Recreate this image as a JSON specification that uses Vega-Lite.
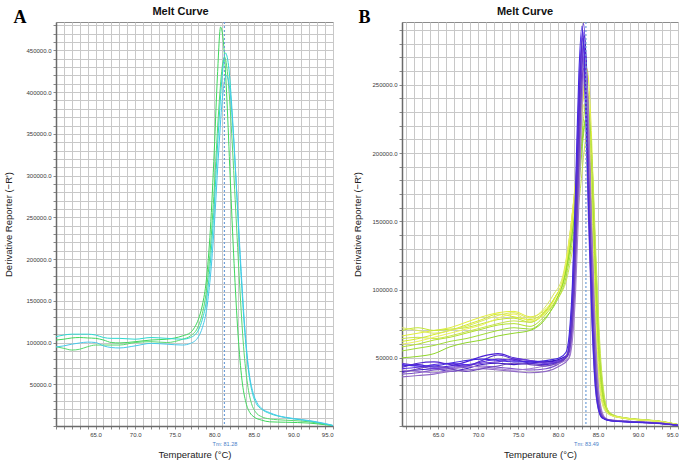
{
"$schema":"https://vega.github.io/schema/vega-lite/v6.json",
"background":"white",
"padding":{"left":3,"top":5,"right":4,"bottom":1},
"spacing":18,
"config":{
 "font":"Liberation Sans",
 "view":{"stroke":"#8c8c8c","strokeWidth":1},
 "axis":{"labelFont":"Liberation Sans","labelFontSize":6,"labelColor":"#3a3a3a","titleFont":"Liberation Sans","titleFontSize":9.5,"titleFontWeight":"normal","titleColor":"#222222","gridColor":"#c8c8c8","gridWidth":1,"tickColor":"#888888","tickSize":3,"domainColor":"#6a6a6a","domainWidth":1.5,"labelOverlap":false,"labelPadding":2}
},
"datasets":{
"a":[
{"s":"g1","t":60,"v":103000},{"s":"g1","t":61,"v":104000},{"s":"g1","t":62,"v":105500},{"s":"g1","t":63,"v":106000},{"s":"g1","t":64,"v":105500},{"s":"g1","t":65,"v":105000},{"s":"g1","t":66,"v":103000},{"s":"g1","t":67,"v":100000},{"s":"g1","t":68,"v":99500},{"s":"g1","t":70,"v":101000},{"s":"g1","t":72,"v":103000},{"s":"g1","t":74,"v":104000},{"s":"g1","t":76,"v":108000},{"s":"g1","t":77,"v":112000},{"s":"g1","t":77.5,"v":118000},{"s":"g1","t":78,"v":128000},{"s":"g1","t":78.5,"v":145000},{"s":"g1","t":79,"v":175000},{"s":"g1","t":79.5,"v":235000},{"s":"g1","t":80,"v":330000},{"s":"g1","t":80.4,"v":420000},{"s":"g1","t":80.8,"v":478000},{"s":"g1","t":81.2,"v":455000},{"s":"g1","t":81.6,"v":390000},{"s":"g1","t":82,"v":300000},{"s":"g1","t":82.5,"v":195000},{"s":"g1","t":83,"v":110000},{"s":"g1","t":83.5,"v":55000},{"s":"g1","t":84,"v":28000},{"s":"g1","t":84.5,"v":16000},{"s":"g1","t":85,"v":11000},{"s":"g1","t":86,"v":7000},{"s":"g1","t":87,"v":5000},{"s":"g1","t":89,"v":4500},{"s":"g1","t":92,"v":3500},{"s":"g1","t":94,"v":1500},{"s":"g1","t":95,"v":500},
{"s":"g2","t":60,"v":95000},{"s":"g2","t":61,"v":93000},{"s":"g2","t":62,"v":91000},{"s":"g2","t":63,"v":92000},{"s":"g2","t":64,"v":95000},{"s":"g2","t":65,"v":97000},{"s":"g2","t":66,"v":97000},{"s":"g2","t":67,"v":97000},{"s":"g2","t":68,"v":97000},{"s":"g2","t":70,"v":100000},{"s":"g2","t":72,"v":101000},{"s":"g2","t":74,"v":100000},{"s":"g2","t":76,"v":104000},{"s":"g2","t":77,"v":108000},{"s":"g2","t":78,"v":120000},{"s":"g2","t":78.5,"v":135000},{"s":"g2","t":79,"v":162000},{"s":"g2","t":79.5,"v":212000},{"s":"g2","t":80,"v":285000},{"s":"g2","t":80.5,"v":370000},{"s":"g2","t":81,"v":430000},{"s":"g2","t":81.3,"v":442000},{"s":"g2","t":81.7,"v":420000},{"s":"g2","t":82.2,"v":350000},{"s":"g2","t":82.7,"v":260000},{"s":"g2","t":83.2,"v":170000},{"s":"g2","t":83.7,"v":95000},{"s":"g2","t":84.2,"v":50000},{"s":"g2","t":84.7,"v":27000},{"s":"g2","t":85.2,"v":17000},{"s":"g2","t":86,"v":11000},{"s":"g2","t":87,"v":8500},{"s":"g2","t":88,"v":7500},{"s":"g2","t":90,"v":6500},{"s":"g2","t":92,"v":5000},{"s":"g2","t":94,"v":2000},{"s":"g2","t":95,"v":500},
{"s":"c1","t":60,"v":107000},{"s":"c1","t":61,"v":109000},{"s":"c1","t":62,"v":110000},{"s":"c1","t":63,"v":110000},{"s":"c1","t":64,"v":110000},{"s":"c1","t":65,"v":109000},{"s":"c1","t":66,"v":106000},{"s":"c1","t":67,"v":105000},{"s":"c1","t":68,"v":105000},{"s":"c1","t":70,"v":104000},{"s":"c1","t":72,"v":106000},{"s":"c1","t":74,"v":105000},{"s":"c1","t":76,"v":104000},{"s":"c1","t":77,"v":106000},{"s":"c1","t":78,"v":115000},{"s":"c1","t":78.5,"v":128000},{"s":"c1","t":79,"v":150000},{"s":"c1","t":79.5,"v":195000},{"s":"c1","t":80,"v":265000},{"s":"c1","t":80.5,"v":350000},{"s":"c1","t":81,"v":420000},{"s":"c1","t":81.4,"v":447000},{"s":"c1","t":81.8,"v":432000},{"s":"c1","t":82.3,"v":370000},{"s":"c1","t":82.8,"v":285000},{"s":"c1","t":83.3,"v":195000},{"s":"c1","t":83.8,"v":120000},{"s":"c1","t":84.3,"v":68000},{"s":"c1","t":84.8,"v":40000},{"s":"c1","t":85.3,"v":27000},{"s":"c1","t":86,"v":20000},{"s":"c1","t":87,"v":15000},{"s":"c1","t":88,"v":12000},{"s":"c1","t":89,"v":10000},{"s":"c1","t":90,"v":8500},{"s":"c1","t":92,"v":6000},{"s":"c1","t":94,"v":2500},{"s":"c1","t":95,"v":500},
{"s":"c2","t":60,"v":94700},{"s":"c2","t":61,"v":96000},{"s":"c2","t":62,"v":98000},{"s":"c2","t":63,"v":99500},{"s":"c2","t":64,"v":100500},{"s":"c2","t":65,"v":100000},{"s":"c2","t":66,"v":96000},{"s":"c2","t":67,"v":94000},{"s":"c2","t":68,"v":93500},{"s":"c2","t":70,"v":96000},{"s":"c2","t":72,"v":99000},{"s":"c2","t":74,"v":98000},{"s":"c2","t":76,"v":97000},{"s":"c2","t":77,"v":99000},{"s":"c2","t":78,"v":107000},{"s":"c2","t":78.5,"v":118000},{"s":"c2","t":79,"v":138000},{"s":"c2","t":79.5,"v":178000},{"s":"c2","t":80,"v":240000},{"s":"c2","t":80.5,"v":320000},{"s":"c2","t":81,"v":390000},{"s":"c2","t":81.5,"v":420000},{"s":"c2","t":81.9,"v":408000},{"s":"c2","t":82.4,"v":350000},{"s":"c2","t":82.9,"v":270000},{"s":"c2","t":83.4,"v":185000},{"s":"c2","t":83.9,"v":112000},{"s":"c2","t":84.4,"v":64000},{"s":"c2","t":84.9,"v":40000},{"s":"c2","t":85.4,"v":28000},{"s":"c2","t":86,"v":21000},{"s":"c2","t":87,"v":16000},{"s":"c2","t":88,"v":12500},{"s":"c2","t":89,"v":10500},{"s":"c2","t":90,"v":9000},{"s":"c2","t":92,"v":6500},{"s":"c2","t":94,"v":3000},{"s":"c2","t":95,"v":700}
],
"by":[
{"s":"y1","t":60.5,"v":66000},{"s":"y1","t":62.5,"v":68000},{"s":"y1","t":64.5,"v":70000},{"s":"y1","t":66.5,"v":72000},{"s":"y1","t":68.5,"v":76000},{"s":"y1","t":70.5,"v":80000},{"s":"y1","t":72.5,"v":83000},{"s":"y1","t":74.5,"v":84000},{"s":"y1","t":76.5,"v":80000},{"s":"y1","t":78.5,"v":86000},{"s":"y1","t":79.7,"v":95000},{"s":"y1","t":80.9,"v":111000},{"s":"y1","t":81.6,"v":139000},{"s":"y1","t":82.1,"v":166000},{"s":"y1","t":82.6,"v":200000},{"s":"y1","t":83.1,"v":239000},{"s":"y1","t":83.6,"v":262000},{"s":"y1","t":84.1,"v":225000},{"s":"y1","t":84.6,"v":139000},{"s":"y1","t":85.1,"v":63000},{"s":"y1","t":85.6,"v":26000},{"s":"y1","t":86.1,"v":13000},{"s":"y1","t":86.8,"v":8000},{"s":"y1","t":88,"v":6000},{"s":"y1","t":90,"v":4600},{"s":"y1","t":92.5,"v":3500},{"s":"y1","t":95,"v":1000},
{"s":"y2","t":60.5,"v":62000},{"s":"y2","t":62.5,"v":64000},{"s":"y2","t":64.5,"v":67000},{"s":"y2","t":66.5,"v":70000},{"s":"y2","t":68.5,"v":74000},{"s":"y2","t":70.5,"v":78000},{"s":"y2","t":72.5,"v":82000},{"s":"y2","t":74.5,"v":80000},{"s":"y2","t":76.5,"v":78000},{"s":"y2","t":78.5,"v":85000},{"s":"y2","t":79.6,"v":94000},{"s":"y2","t":80.8,"v":111000},{"s":"y2","t":81.5,"v":137000},{"s":"y2","t":82,"v":164000},{"s":"y2","t":82.5,"v":196000},{"s":"y2","t":83,"v":233000},{"s":"y2","t":83.5,"v":255000},{"s":"y2","t":84,"v":219000},{"s":"y2","t":84.5,"v":135000},{"s":"y2","t":85,"v":61000},{"s":"y2","t":85.5,"v":26000},{"s":"y2","t":86,"v":13000},{"s":"y2","t":86.7,"v":8000},{"s":"y2","t":88,"v":6200},{"s":"y2","t":90,"v":4800},{"s":"y2","t":92.5,"v":3600},{"s":"y2","t":95,"v":1000},
{"s":"y3","t":60.5,"v":70000},{"s":"y3","t":62.5,"v":72000},{"s":"y3","t":64.5,"v":70000},{"s":"y3","t":66.5,"v":71000},{"s":"y3","t":68.5,"v":72000},{"s":"y3","t":70.5,"v":75000},{"s":"y3","t":72.5,"v":78000},{"s":"y3","t":74.5,"v":79000},{"s":"y3","t":76.5,"v":76000},{"s":"y3","t":78.5,"v":84000},{"s":"y3","t":79.5,"v":93000},{"s":"y3","t":80.7,"v":110000},{"s":"y3","t":81.4,"v":136000},{"s":"y3","t":81.9,"v":161000},{"s":"y3","t":82.4,"v":192000},{"s":"y3","t":82.9,"v":227000},{"s":"y3","t":83.4,"v":248000},{"s":"y3","t":83.9,"v":213000},{"s":"y3","t":84.4,"v":131000},{"s":"y3","t":84.9,"v":60000},{"s":"y3","t":85.4,"v":25000},{"s":"y3","t":85.9,"v":12000},{"s":"y3","t":86.6,"v":8000},{"s":"y3","t":88,"v":5800},{"s":"y3","t":90,"v":4500},{"s":"y3","t":92.5,"v":3400},{"s":"y3","t":95,"v":900},
{"s":"y4","t":60.5,"v":58000},{"s":"y4","t":62.5,"v":60000},{"s":"y4","t":64.5,"v":63000},{"s":"y4","t":66.5,"v":65000},{"s":"y4","t":68.5,"v":68000},{"s":"y4","t":70.5,"v":71000},{"s":"y4","t":72.5,"v":74000},{"s":"y4","t":74.5,"v":75000},{"s":"y4","t":76.5,"v":73000},{"s":"y4","t":78.5,"v":82000},{"s":"y4","t":79.7,"v":92000},{"s":"y4","t":80.9,"v":110000},{"s":"y4","t":81.6,"v":134000},{"s":"y4","t":82.1,"v":157000},{"s":"y4","t":82.6,"v":187000},{"s":"y4","t":83.1,"v":220000},{"s":"y4","t":83.6,"v":240000},{"s":"y4","t":84.1,"v":206000},{"s":"y4","t":84.6,"v":127000},{"s":"y4","t":85.1,"v":58000},{"s":"y4","t":85.6,"v":24000},{"s":"y4","t":86.1,"v":12000},{"s":"y4","t":86.8,"v":8000},{"s":"y4","t":88,"v":6000},{"s":"y4","t":90,"v":4600},{"s":"y4","t":92.5,"v":3500},{"s":"y4","t":95,"v":1000},
{"s":"y5","t":60.5,"v":55000},{"s":"y5","t":62.5,"v":57000},{"s":"y5","t":64.5,"v":59000},{"s":"y5","t":66.5,"v":62000},{"s":"y5","t":68.5,"v":64000},{"s":"y5","t":70.5,"v":67000},{"s":"y5","t":72.5,"v":70000},{"s":"y5","t":74.5,"v":72000},{"s":"y5","t":76.5,"v":71000},{"s":"y5","t":78.5,"v":80000},{"s":"y5","t":79.8,"v":91000},{"s":"y5","t":81,"v":109000},{"s":"y5","t":81.7,"v":132000},{"s":"y5","t":82.2,"v":154000},{"s":"y5","t":82.7,"v":182000},{"s":"y5","t":83.2,"v":214000},{"s":"y5","t":83.7,"v":232000},{"s":"y5","t":84.2,"v":200000},{"s":"y5","t":84.7,"v":123000},{"s":"y5","t":85.2,"v":56000},{"s":"y5","t":85.7,"v":23000},{"s":"y5","t":86.2,"v":12000},{"s":"y5","t":86.9,"v":8000},{"s":"y5","t":88,"v":6300},{"s":"y5","t":90,"v":4900},{"s":"y5","t":92.5,"v":3700},{"s":"y5","t":95,"v":1100},
{"s":"y6","t":60.5,"v":50000},{"s":"y6","t":62.5,"v":51000},{"s":"y6","t":64.5,"v":53000},{"s":"y6","t":66.5,"v":58000},{"s":"y6","t":68.5,"v":61000},{"s":"y6","t":70.5,"v":63000},{"s":"y6","t":72.5,"v":66000},{"s":"y6","t":74.5,"v":68000},{"s":"y6","t":76.5,"v":70000},{"s":"y6","t":78.5,"v":79000},{"s":"y6","t":79.6,"v":90000},{"s":"y6","t":80.8,"v":109000},{"s":"y6","t":81.5,"v":130000},{"s":"y6","t":82,"v":151000},{"s":"y6","t":82.5,"v":178000},{"s":"y6","t":83,"v":208000},{"s":"y6","t":83.5,"v":225000},{"s":"y6","t":84,"v":194000},{"s":"y6","t":84.5,"v":119000},{"s":"y6","t":85,"v":54000},{"s":"y6","t":85.5,"v":23000},{"s":"y6","t":86,"v":12000},{"s":"y6","t":86.7,"v":8000},{"s":"y6","t":88,"v":6100},{"s":"y6","t":90,"v":4700},{"s":"y6","t":92.5,"v":3600},{"s":"y6","t":95,"v":1000},
{"s":"y7","t":60.5,"v":72000},{"s":"y7","t":62.5,"v":70000},{"s":"y7","t":64.5,"v":68000},{"s":"y7","t":66.5,"v":70000},{"s":"y7","t":68.5,"v":73000},{"s":"y7","t":70.5,"v":77000},{"s":"y7","t":72.5,"v":81000},{"s":"y7","t":74.5,"v":83000},{"s":"y7","t":76.5,"v":79000},{"s":"y7","t":78.5,"v":88000},{"s":"y7","t":79.4,"v":96000},{"s":"y7","t":80.6,"v":110000},{"s":"y7","t":81.3,"v":133000},{"s":"y7","t":81.8,"v":156000},{"s":"y7","t":82.3,"v":184000},{"s":"y7","t":82.8,"v":217000},{"s":"y7","t":83.3,"v":236000},{"s":"y7","t":83.8,"v":203000},{"s":"y7","t":84.3,"v":125000},{"s":"y7","t":84.8,"v":57000},{"s":"y7","t":85.3,"v":24000},{"s":"y7","t":85.8,"v":12000},{"s":"y7","t":86.5,"v":8000},{"s":"y7","t":88,"v":5900},{"s":"y7","t":90,"v":4500},{"s":"y7","t":92.5,"v":3400},{"s":"y7","t":95,"v":900},
{"s":"y8","t":60.5,"v":64000},{"s":"y8","t":62.5,"v":65000},{"s":"y8","t":64.5,"v":64000},{"s":"y8","t":66.5,"v":66000},{"s":"y8","t":68.5,"v":69000},{"s":"y8","t":70.5,"v":72000},{"s":"y8","t":72.5,"v":75000},{"s":"y8","t":74.5,"v":77000},{"s":"y8","t":76.5,"v":76000},{"s":"y8","t":78.5,"v":84000},{"s":"y8","t":79.9,"v":93000},{"s":"y8","t":81.1,"v":108000},{"s":"y8","t":81.8,"v":129000},{"s":"y8","t":82.3,"v":149000},{"s":"y8","t":82.8,"v":174000},{"s":"y8","t":83.3,"v":203000},{"s":"y8","t":83.8,"v":220000},{"s":"y8","t":84.3,"v":189000},{"s":"y8","t":84.8,"v":117000},{"s":"y8","t":85.3,"v":53000},{"s":"y8","t":85.8,"v":22000},{"s":"y8","t":86.3,"v":11000},{"s":"y8","t":87,"v":8000},{"s":"y8","t":88,"v":6400},{"s":"y8","t":90,"v":5000},{"s":"y8","t":92.5,"v":3800},{"s":"y8","t":95,"v":1100},
{"s":"y9","t":60.5,"v":60000},{"s":"y9","t":62.5,"v":62000},{"s":"y9","t":64.5,"v":65000},{"s":"y9","t":66.5,"v":68000},{"s":"y9","t":68.5,"v":71000},{"s":"y9","t":70.5,"v":74000},{"s":"y9","t":72.5,"v":79000},{"s":"y9","t":74.5,"v":82000},{"s":"y9","t":76.5,"v":77000},{"s":"y9","t":78.5,"v":83000},{"s":"y9","t":79.5,"v":92000},{"s":"y9","t":80.7,"v":110000},{"s":"y9","t":81.4,"v":136000},{"s":"y9","t":81.9,"v":162000},{"s":"y9","t":82.4,"v":193000},{"s":"y9","t":82.9,"v":229000},{"s":"y9","t":83.4,"v":250000},{"s":"y9","t":83.9,"v":215000},{"s":"y9","t":84.4,"v":132000},{"s":"y9","t":84.9,"v":60000},{"s":"y9","t":85.4,"v":25000},{"s":"y9","t":85.9,"v":13000},{"s":"y9","t":86.6,"v":8000},{"s":"y9","t":88,"v":6000},{"s":"y9","t":90,"v":4600},{"s":"y9","t":92.5,"v":3500},{"s":"y9","t":95,"v":1000}
],
"bp":[
{"s":"p1","t":60.5,"v":44000},{"s":"p1","t":62.5,"v":45000},{"s":"p1","t":64.5,"v":43000},{"s":"p1","t":66.5,"v":44000},{"s":"p1","t":68.5,"v":47000},{"s":"p1","t":70.5,"v":51000},{"s":"p1","t":72.5,"v":53000},{"s":"p1","t":74.5,"v":50000},{"s":"p1","t":76.5,"v":48000},{"s":"p1","t":78.5,"v":47000},{"s":"p1","t":80.2,"v":48000},{"s":"p1","t":81.2,"v":52000},{"s":"p1","t":81.6,"v":66000},{"s":"p1","t":82,"v":105000},{"s":"p1","t":82.4,"v":176000},{"s":"p1","t":82.8,"v":258000},{"s":"p1","t":83.2,"v":295000},{"s":"p1","t":83.6,"v":252000},{"s":"p1","t":84,"v":165000},{"s":"p1","t":84.4,"v":88000},{"s":"p1","t":84.8,"v":36000},{"s":"p1","t":85.2,"v":14000},{"s":"p1","t":85.7,"v":6000},{"s":"p1","t":86.5,"v":4000},{"s":"p1","t":88.5,"v":3200},{"s":"p1","t":91,"v":2600},{"s":"p1","t":93,"v":1800},{"s":"p1","t":95,"v":600},
{"s":"p2","t":60.5,"v":42000},{"s":"p2","t":62.5,"v":43000},{"s":"p2","t":64.5,"v":45000},{"s":"p2","t":66.5,"v":46000},{"s":"p2","t":68.5,"v":45000},{"s":"p2","t":70.5,"v":47000},{"s":"p2","t":72.5,"v":49000},{"s":"p2","t":74.5,"v":48000},{"s":"p2","t":76.5,"v":47000},{"s":"p2","t":78.5,"v":46000},{"s":"p2","t":80.2,"v":47000},{"s":"p2","t":81.1,"v":51000},{"s":"p2","t":81.5,"v":64000},{"s":"p2","t":81.9,"v":102000},{"s":"p2","t":82.3,"v":173000},{"s":"p2","t":82.7,"v":254000},{"s":"p2","t":83.1,"v":290000},{"s":"p2","t":83.5,"v":248000},{"s":"p2","t":83.9,"v":162000},{"s":"p2","t":84.3,"v":86000},{"s":"p2","t":84.7,"v":35000},{"s":"p2","t":85.1,"v":14000},{"s":"p2","t":85.6,"v":6000},{"s":"p2","t":86.5,"v":4200},{"s":"p2","t":88.5,"v":3300},{"s":"p2","t":91,"v":2500},{"s":"p2","t":93,"v":1700},{"s":"p2","t":95,"v":500},
{"s":"p3","t":60.5,"v":40000},{"s":"p3","t":62.5,"v":41000},{"s":"p3","t":64.5,"v":42000},{"s":"p3","t":66.5,"v":40000},{"s":"p3","t":68.5,"v":42000},{"s":"p3","t":70.5,"v":45000},{"s":"p3","t":72.5,"v":46000},{"s":"p3","t":74.5,"v":45000},{"s":"p3","t":76.5,"v":46000},{"s":"p3","t":78.5,"v":47000},{"s":"p3","t":80.2,"v":49000},{"s":"p3","t":81.3,"v":53000},{"s":"p3","t":81.7,"v":67000},{"s":"p3","t":82.1,"v":104000},{"s":"p3","t":82.5,"v":172000},{"s":"p3","t":82.9,"v":250000},{"s":"p3","t":83.3,"v":286000},{"s":"p3","t":83.7,"v":244000},{"s":"p3","t":84.1,"v":158000},{"s":"p3","t":84.5,"v":84000},{"s":"p3","t":84.9,"v":34000},{"s":"p3","t":85.3,"v":13000},{"s":"p3","t":85.8,"v":6000},{"s":"p3","t":86.5,"v":4300},{"s":"p3","t":88.5,"v":3400},{"s":"p3","t":91,"v":2700},{"s":"p3","t":93,"v":1900},{"s":"p3","t":95,"v":600},
{"s":"p4","t":60.5,"v":46000},{"s":"p4","t":62.5,"v":44000},{"s":"p4","t":64.5,"v":42000},{"s":"p4","t":66.5,"v":43000},{"s":"p4","t":68.5,"v":44000},{"s":"p4","t":70.5,"v":46000},{"s":"p4","t":72.5,"v":47000},{"s":"p4","t":74.5,"v":49000},{"s":"p4","t":76.5,"v":48000},{"s":"p4","t":78.5,"v":46000},{"s":"p4","t":80.2,"v":48000},{"s":"p4","t":81.2,"v":52000},{"s":"p4","t":81.6,"v":65000},{"s":"p4","t":82,"v":102000},{"s":"p4","t":82.4,"v":169000},{"s":"p4","t":82.8,"v":245000},{"s":"p4","t":83.2,"v":280000},{"s":"p4","t":83.6,"v":240000},{"s":"p4","t":84,"v":156000},{"s":"p4","t":84.4,"v":83000},{"s":"p4","t":84.8,"v":34000},{"s":"p4","t":85.2,"v":13000},{"s":"p4","t":85.7,"v":6000},{"s":"p4","t":86.5,"v":3900},{"s":"p4","t":88.5,"v":3100},{"s":"p4","t":91,"v":2400},{"s":"p4","t":93,"v":1700},{"s":"p4","t":95,"v":500},
{"s":"p5","t":60.5,"v":38000},{"s":"p5","t":62.5,"v":39000},{"s":"p5","t":64.5,"v":41000},{"s":"p5","t":66.5,"v":42000},{"s":"p5","t":68.5,"v":43000},{"s":"p5","t":70.5,"v":44000},{"s":"p5","t":72.5,"v":43000},{"s":"p5","t":74.5,"v":42000},{"s":"p5","t":76.5,"v":41000},{"s":"p5","t":78.5,"v":42000},{"s":"p5","t":80.2,"v":46000},{"s":"p5","t":81,"v":50000},{"s":"p5","t":81.4,"v":62000},{"s":"p5","t":81.8,"v":98000},{"s":"p5","t":82.2,"v":166000},{"s":"p5","t":82.6,"v":242000},{"s":"p5","t":83,"v":276000},{"s":"p5","t":83.4,"v":236000},{"s":"p5","t":83.8,"v":153000},{"s":"p5","t":84.2,"v":82000},{"s":"p5","t":84.6,"v":33000},{"s":"p5","t":85,"v":13000},{"s":"p5","t":85.5,"v":6000},{"s":"p5","t":86.5,"v":4000},{"s":"p5","t":88.5,"v":3200},{"s":"p5","t":91,"v":2500},{"s":"p5","t":93,"v":1800},{"s":"p5","t":95,"v":600},
{"s":"p6","t":60.5,"v":36000},{"s":"p6","t":62.5,"v":37000},{"s":"p6","t":64.5,"v":38000},{"s":"p6","t":66.5,"v":40000},{"s":"p6","t":68.5,"v":41000},{"s":"p6","t":70.5,"v":42000},{"s":"p6","t":72.5,"v":41000},{"s":"p6","t":74.5,"v":40000},{"s":"p6","t":76.5,"v":39000},{"s":"p6","t":78.5,"v":40000},{"s":"p6","t":80.2,"v":44000},{"s":"p6","t":81.3,"v":49000},{"s":"p6","t":81.7,"v":62000},{"s":"p6","t":82.1,"v":98000},{"s":"p6","t":82.5,"v":163000},{"s":"p6","t":82.9,"v":238000},{"s":"p6","t":83.3,"v":272000},{"s":"p6","t":83.7,"v":232000},{"s":"p6","t":84.1,"v":150000},{"s":"p6","t":84.5,"v":80000},{"s":"p6","t":84.9,"v":32000},{"s":"p6","t":85.3,"v":13000},{"s":"p6","t":85.8,"v":6000},{"s":"p6","t":86.5,"v":4400},{"s":"p6","t":88.5,"v":3500},{"s":"p6","t":91,"v":2800},{"s":"p6","t":93,"v":2000},{"s":"p6","t":95,"v":700},
{"s":"p7","t":60.5,"v":41000},{"s":"p7","t":62.5,"v":40000},{"s":"p7","t":64.5,"v":39000},{"s":"p7","t":66.5,"v":41000},{"s":"p7","t":68.5,"v":44000},{"s":"p7","t":70.5,"v":43000},{"s":"p7","t":72.5,"v":42000},{"s":"p7","t":74.5,"v":41000},{"s":"p7","t":76.5,"v":42000},{"s":"p7","t":78.5,"v":44000},{"s":"p7","t":80.2,"v":46000},{"s":"p7","t":81.4,"v":50000},{"s":"p7","t":81.8,"v":63000},{"s":"p7","t":82.2,"v":98000},{"s":"p7","t":82.6,"v":161000},{"s":"p7","t":83,"v":235000},{"s":"p7","t":83.4,"v":268000},{"s":"p7","t":83.8,"v":229000},{"s":"p7","t":84.2,"v":148000},{"s":"p7","t":84.6,"v":79000},{"s":"p7","t":85,"v":32000},{"s":"p7","t":85.4,"v":13000},{"s":"p7","t":85.9,"v":6000},{"s":"p7","t":86.5,"v":4500},{"s":"p7","t":88.5,"v":3600},{"s":"p7","t":91,"v":2800},{"s":"p7","t":93,"v":2000},{"s":"p7","t":95,"v":700},
{"s":"p8","t":60.5,"v":43000},{"s":"p8","t":62.5,"v":46000},{"s":"p8","t":64.5,"v":47000},{"s":"p8","t":66.5,"v":45000},{"s":"p8","t":68.5,"v":44000},{"s":"p8","t":70.5,"v":48000},{"s":"p8","t":72.5,"v":52000},{"s":"p8","t":74.5,"v":49000},{"s":"p8","t":76.5,"v":46000},{"s":"p8","t":78.5,"v":45000},{"s":"p8","t":80.2,"v":47000},{"s":"p8","t":81.1,"v":51000},{"s":"p8","t":81.5,"v":64000},{"s":"p8","t":81.9,"v":101000},{"s":"p8","t":82.3,"v":170000},{"s":"p8","t":82.7,"v":248000},{"s":"p8","t":83.1,"v":284000},{"s":"p8","t":83.5,"v":242000},{"s":"p8","t":83.9,"v":158000},{"s":"p8","t":84.3,"v":84000},{"s":"p8","t":84.7,"v":34000},{"s":"p8","t":85.1,"v":13000},{"s":"p8","t":85.6,"v":6000},{"s":"p8","t":86.5,"v":4100},{"s":"p8","t":88.5,"v":3300},{"s":"p8","t":91,"v":2600},{"s":"p8","t":93,"v":1800},{"s":"p8","t":95,"v":500},
{"s":"p9","t":60.5,"v":39000},{"s":"p9","t":62.5,"v":42000},{"s":"p9","t":64.5,"v":44000},{"s":"p9","t":66.5,"v":42000},{"s":"p9","t":68.5,"v":40000},{"s":"p9","t":70.5,"v":42000},{"s":"p9","t":72.5,"v":44000},{"s":"p9","t":74.5,"v":46000},{"s":"p9","t":76.5,"v":45000},{"s":"p9","t":78.5,"v":44000},{"s":"p9","t":80.2,"v":47000},{"s":"p9","t":81.2,"v":51000},{"s":"p9","t":81.6,"v":63000},{"s":"p9","t":82,"v":97000},{"s":"p9","t":82.4,"v":159000},{"s":"p9","t":82.8,"v":230000},{"s":"p9","t":83.2,"v":262000},{"s":"p9","t":83.6,"v":224000},{"s":"p9","t":84,"v":145000},{"s":"p9","t":84.4,"v":77000},{"s":"p9","t":84.8,"v":31000},{"s":"p9","t":85.2,"v":12000},{"s":"p9","t":85.7,"v":6000},{"s":"p9","t":86.5,"v":4200},{"s":"p9","t":88.5,"v":3400},{"s":"p9","t":91,"v":2600},{"s":"p9","t":93,"v":1900},{"s":"p9","t":95,"v":600},
{"s":"p10","t":60.5,"v":45000},{"s":"p10","t":62.5,"v":44000},{"s":"p10","t":64.5,"v":44000},{"s":"p10","t":66.5,"v":46000},{"s":"p10","t":68.5,"v":48000},{"s":"p10","t":70.5,"v":49000},{"s":"p10","t":72.5,"v":48000},{"s":"p10","t":74.5,"v":47000},{"s":"p10","t":76.5,"v":47000},{"s":"p10","t":78.5,"v":48000},{"s":"p10","t":80.2,"v":50000},{"s":"p10","t":81,"v":54000},{"s":"p10","t":81.4,"v":67000},{"s":"p10","t":81.8,"v":104000},{"s":"p10","t":82.2,"v":176000},{"s":"p10","t":82.6,"v":257000},{"s":"p10","t":83,"v":293000},{"s":"p10","t":83.4,"v":250000},{"s":"p10","t":83.8,"v":164000},{"s":"p10","t":84.2,"v":87000},{"s":"p10","t":84.6,"v":35000},{"s":"p10","t":85,"v":14000},{"s":"p10","t":85.5,"v":6000},{"s":"p10","t":86.5,"v":3800},{"s":"p10","t":88.5,"v":3000},{"s":"p10","t":91,"v":2400},{"s":"p10","t":93,"v":1700},{"s":"p10","t":95,"v":500}
]
},
"hconcat":[
{
 "title":{"text":"A","anchor":"start","frame":"bounds","font":"Liberation Serif","fontSize":18,"fontWeight":"bold","color":"#000000","baseline":"alphabetic","offset":-35,"dx":10},
 "vconcat":[{
  "width":277,"height":404,
  "title":{"text":"Melt Curve","anchor":"middle","frame":"group","font":"Liberation Sans","fontSize":11,"fontWeight":"bold","color":"#111111","offset":4,"dx":-14},
  "layer":[
   {"data":{"name":"a"},
    "mark":{"type":"line","interpolate":"monotone","strokeWidth":1,"clip":true},
    "encoding":{
     "x":{"field":"t","type":"quantitative","scale":{"domain":[60,95],"nice":false,"zero":false},
          "axis":{"orient":"bottom","values":[60,61,62,63,64,65,66,67,68,69,70,71,72,73,74,75,76,77,78,79,80,81,82,83,84,85,86,87,88,89,90,91,92,93,94,95],"labelExpr":"datum.value % 5 === 0 && datum.value > 60 ? format(datum.value, '.1f') : ''","title":"Temperature (°C)","titlePadding":12,"labelPadding":2}},
     "y":{"field":"v","type":"quantitative","scale":{"domain":[0,484000],"nice":false,"zero":true},
          "axis":{"values":[0,10000,20000,30000,40000,50000,60000,70000,80000,90000,100000,110000,120000,130000,140000,150000,160000,170000,180000,190000,200000,210000,220000,230000,240000,250000,260000,270000,280000,290000,300000,310000,320000,330000,340000,350000,360000,370000,380000,390000,400000,410000,420000,430000,440000,450000,460000,470000,480000],"labelExpr":"datum.value % 50000 === 0 && datum.value > 0 ? format(datum.value, '.1f') : ''","title":"Derivative Reporter (−R')","titlePadding":12}},
     "color":{"field":"s","type":"nominal","legend":null,
       "scale":{"domain":["g1","g2","c1","c2","y1","y2","y3","y4","y5","y6","y7","y8","y9","p1","p2","p3","p4","p5","p6","p7","p8","p9","p10"],
                "range":["#3fd65c","#58da6e","#2ed8d0","#46c8ea","#e2ef3a","#d4eb2c","#c4e734","#b2e22e","#a0dc36","#90d62c","#dbe85e","#c8e44c","#ecf25c","#4a1fd8","#5b30e2","#3c18c4","#6a3ad6","#7c50c8","#9068c6","#a07ad0","#5228d0","#6c44bc","#4326e0"]}}
    }},
   {"data":{"values":[{"tm":81.28}]},
    "mark":{"type":"rule","color":"#6f9fd8","strokeDash":[2,2],"strokeWidth":1.2},
    "encoding":{
     "x":{"field":"tm","type":"quantitative","scale":{"domain":[60,95],"nice":false,"zero":false},
          "axis":{"orient":"bottom","values":[81.28],"labelExpr":"'Tm: ' + format(datum.value, '.2f')","labelColor":"#4a7ec8","labelFontSize":5.5,"labelPadding":15,"labelFlush":false,"grid":false,"domain":false,"ticks":false,"title":null}}
    }}
  ],
  "resolve":{"axis":{"x":"independent"}}
 }]
},
{
 "title":{"text":"B","anchor":"start","frame":"bounds","font":"Liberation Serif","fontSize":18,"fontWeight":"bold","color":"#000000","baseline":"alphabetic","offset":-35,"dx":6},
 "vconcat":[{
  "width":276,"height":404,
  "title":{"text":"Melt Curve","anchor":"middle","frame":"group","font":"Liberation Sans","fontSize":11,"fontWeight":"bold","color":"#111111","offset":4,"dx":-15},
  "layer":[
   {"data":{"name":"by"},
    "mark":{"type":"line","interpolate":"monotone","strokeWidth":1,"clip":true},
    "encoding":{
     "x":{"field":"t","type":"quantitative","scale":{"domain":[60.5,95],"nice":false,"zero":false},
          "axis":{"orient":"bottom","values":[61,62,63,64,65,66,67,68,69,70,71,72,73,74,75,76,77,78,79,80,81,82,83,84,85,86,87,88,89,90,91,92,93,94,95],"labelExpr":"datum.value % 5 === 0 ? format(datum.value, '.1f') : ''","title":"Temperature (°C)","titlePadding":12,"labelPadding":2}},
     "y":{"field":"v","type":"quantitative","scale":{"domain":[0,296000],"nice":false,"zero":true},
          "axis":{"values":[0,10000,20000,30000,40000,50000,60000,70000,80000,90000,100000,110000,120000,130000,140000,150000,160000,170000,180000,190000,200000,210000,220000,230000,240000,250000,260000,270000,280000,290000],"labelExpr":"datum.value % 50000 === 0 && datum.value > 0 ? format(datum.value, '.1f') : ''","title":"Derivative Reporter (−R')","titlePadding":9}},
     "color":{"field":"s","type":"nominal","legend":null,
       "scale":{"domain":["g1","g2","c1","c2","y1","y2","y3","y4","y5","y6","y7","y8","y9","p1","p2","p3","p4","p5","p6","p7","p8","p9","p10"],
                "range":["#3fd65c","#58da6e","#2ed8d0","#46c8ea","#e2ef3a","#d4eb2c","#c4e734","#b2e22e","#a0dc36","#90d62c","#dbe85e","#c8e44c","#ecf25c","#4a1fd8","#5b30e2","#3c18c4","#6a3ad6","#7c50c8","#9068c6","#a07ad0","#5228d0","#6c44bc","#4326e0"]}}
    }},
   {"data":{"name":"bp"},
    "mark":{"type":"line","interpolate":"monotone","strokeWidth":1.1,"clip":true},
    "encoding":{
     "x":{"field":"t","type":"quantitative","scale":{"domain":[60.5,95],"nice":false,"zero":false},"axis":null},
     "y":{"field":"v","type":"quantitative","scale":{"domain":[0,296000],"nice":false,"zero":true},
          "axis":{"values":[0,10000,20000,30000,40000,50000,60000,70000,80000,90000,100000,110000,120000,130000,140000,150000,160000,170000,180000,190000,200000,210000,220000,230000,240000,250000,260000,270000,280000,290000],"labelExpr":"datum.value % 50000 === 0 && datum.value > 0 ? format(datum.value, '.1f') : ''","title":"Derivative Reporter (−R')","titlePadding":9}},
     "color":{"field":"s","type":"nominal","legend":null,
       "scale":{"domain":["g1","g2","c1","c2","y1","y2","y3","y4","y5","y6","y7","y8","y9","p1","p2","p3","p4","p5","p6","p7","p8","p9","p10"],
                "range":["#3fd65c","#58da6e","#2ed8d0","#46c8ea","#e2ef3a","#d4eb2c","#c4e734","#b2e22e","#a0dc36","#90d62c","#dbe85e","#c8e44c","#ecf25c","#4a1fd8","#5b30e2","#3c18c4","#6a3ad6","#7c50c8","#9068c6","#a07ad0","#5228d0","#6c44bc","#4326e0"]}}
    }},
   {"data":{"values":[{"tm":83.49}]},
    "mark":{"type":"rule","color":"#6f9fd8","strokeDash":[2,2],"strokeWidth":1.2},
    "encoding":{
     "x":{"field":"tm","type":"quantitative","scale":{"domain":[60.5,95],"nice":false,"zero":false},
          "axis":{"orient":"bottom","values":[83.49],"labelExpr":"'Tm: ' + format(datum.value, '.2f')","labelColor":"#4a7ec8","labelFontSize":5.5,"labelPadding":15,"labelFlush":false,"grid":false,"domain":false,"ticks":false,"title":null}}
    }}
  ],
  "resolve":{"axis":{"x":"independent"}}
 }]
}
]
}
